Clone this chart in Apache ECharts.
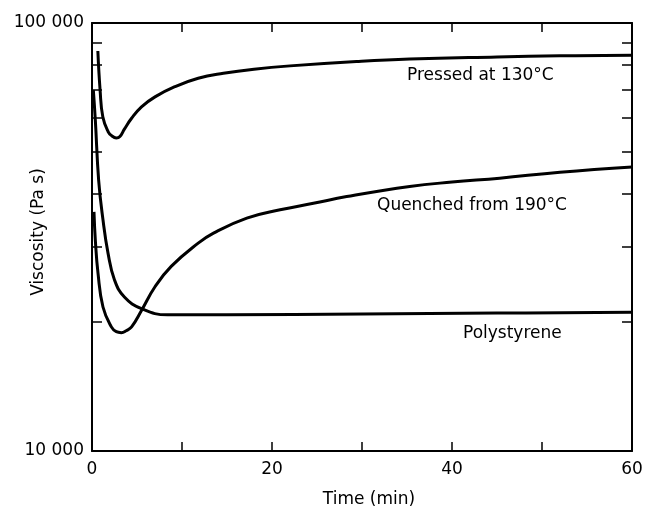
<!DOCTYPE html>
<html>
<head>
<meta charset="utf-8">
<script src="https://cdn.jsdelivr.net/npm/echarts@6/dist/echarts.min.js"></script>
<style>
  html, body { margin: 0; padding: 0; background: #fff; }
  #chart { width: 647px; height: 507px; }
</style>
</head>
<body>
<div id="chart"></div>
<script>
// time (min), viscosity (Pa s)
const pressedData = [
  [0.65, 86000], [0.9, 69700], [1.2, 60400], [1.8, 55700], [2.2, 54500],
  [2.7, 53900], [3.1, 54300], [3.6, 56500], [4.4, 59900], [5.5, 63700],
  [7.0, 67200], [9.2, 71000], [11.8, 74300], [14.6, 76300], [18, 78000],
  [22, 79400], [29.4, 81300], [35.3, 82400], [45, 83300], [52, 83800], [60, 84100]
];
const quenchedData = [
  [0.22, 36200], [0.37, 31100], [0.67, 26000], [1.22, 21700], [2.15, 19500],
  [2.7, 19000], [3.26, 18900], [3.8, 19100], [4.4, 19500], [5.5, 21300],
  [7.0, 24200], [8.8, 27000], [11.8, 30600], [13.5, 32300], [17.2, 35000],
  [20.9, 36600], [24.6, 37900], [28.3, 39300], [35.3, 41500], [40, 42500],
  [45.3, 43400], [52, 44800], [60, 46100]
];
const polystyreneData = [
  [0.15, 69700], [0.37, 59300], [0.74, 42900], [1.22, 34700], [1.78, 29000],
  [2.5, 25100], [3.6, 22900], [5.5, 21500], [8.4, 20800], [15, 20800],
  [30, 20900], [45, 21000], [60, 21100]
];
const yMinorTicks = [20000, 30000, 40000, 50000, 60000, 70000, 80000, 90000];
const xLabelValues = [0, 20, 40, 60];

const font = 'DejaVu Sans';
const fontSize = 17;
const chart = echarts.init(document.getElementById('chart'));

const fmtThousands = (v) => String(Math.round(v)).replace(/\B(?=(\d{3})+(?!\d))/g, ' ');

const lineSeries = (name, data) => ({
  name: name,
  type: 'line',
  data: data,
  smooth: 0.45,
  symbol: 'none',
  lineStyle: { color: '#000', width: 3 },
  xAxisIndex: 0,
  yAxisIndex: 0
});

const frameLine = { onZero: false, lineStyle: { color: '#000', width: 2 } };
const tickStyle = { color: '#000', width: 1.5 };

chart.setOption({
  animation: false,
  backgroundColor: '#fff',
  grid: { left: 92, right: 15, top: 23, bottom: 56, outerBoundsMode: 'none' },
  xAxis: [
    {
      type: 'value', min: 0, max: 60, interval: 10, position: 'bottom',
      name: 'Time (min)', nameLocation: 'middle', nameGap: 40, nameMoveOverlap: false,
      nameTextStyle: { fontFamily: font, fontSize: fontSize, color: '#000', padding: [0, 0, 0, 14] },
      axisLine: frameLine,
      axisTick: { inside: true, length: 9, lineStyle: tickStyle },
      axisLabel: {
        margin: 10, fontFamily: font, fontSize: fontSize, color: '#000',
        formatter: (v) => xLabelValues.includes(v) ? String(v) : ''
      },
      splitLine: { show: false }
    },
    {
      type: 'value', min: 0, max: 60, interval: 10, position: 'top',
      axisLine: frameLine,
      axisTick: { inside: true, length: 9, lineStyle: tickStyle },
      axisLabel: { show: false },
      splitLine: { show: false }
    }
  ],
  yAxis: [
    {
      type: 'log', logBase: 10, min: 10000, max: 100000, position: 'left',
      name: 'Viscosity (Pa s)', nameLocation: 'middle', nameGap: 45, nameMoveOverlap: false,
      nameTextStyle: { fontFamily: font, fontSize: fontSize, color: '#000', padding: [0, 0, 0, 10] },
      axisLine: frameLine,
      axisTick: { inside: true, length: 10, customValues: yMinorTicks, lineStyle: tickStyle },
      axisLabel: { margin: 8, fontFamily: font, fontSize: fontSize, color: '#000', formatter: fmtThousands },
      splitLine: { show: false }
    },
    {
      type: 'log', logBase: 10, min: 10000, max: 100000, position: 'right',
      axisLine: Object.assign({ show: true }, frameLine),
      axisTick: { inside: true, length: 10, customValues: yMinorTicks, lineStyle: tickStyle },
      axisLabel: { show: false },
      splitLine: { show: false }
    }
  ],
  series: [
    lineSeries('Pressed at 130°C', pressedData),
    lineSeries('Quenched from 190°C', quenchedData),
    lineSeries('Polystyrene', polystyreneData)
  ],
  graphic: [
    { type: 'text', left: 407, top: 67, style: { text: 'Pressed at 130°C', font: fontSize + 'px "DejaVu Sans"', fill: '#000' } },
    { type: 'text', left: 377, top: 197, style: { text: 'Quenched from 190°C', font: fontSize + 'px "DejaVu Sans"', fill: '#000' } },
    { type: 'text', left: 463, top: 325, style: { text: 'Polystyrene', font: fontSize + 'px "DejaVu Sans"', fill: '#000' } }
  ]
});
</script>
</body>
</html>
